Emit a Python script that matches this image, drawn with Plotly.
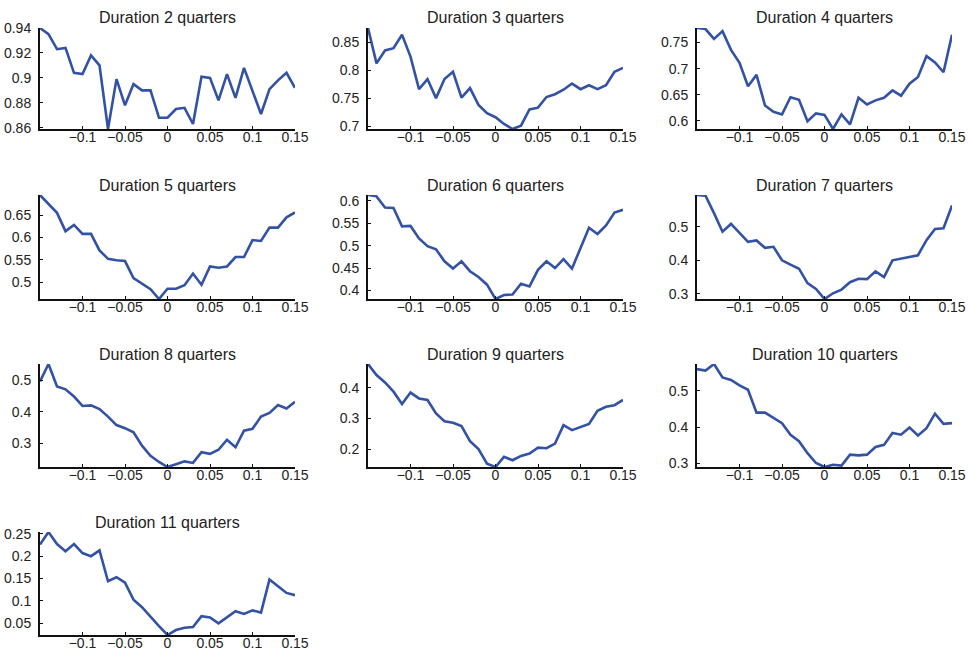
import plotly.graph_objects as go

# Common horizontal grid: -0.15 to 0.15 in steps of 0.01
x_vals = [round(-0.15 + 0.01 * i, 2) for i in range(31)]

durations = [2, 3, 4, 5, 6, 7, 8, 9, 10, 11]

dur2 = [0.940, 0.935, 0.923, 0.924, 0.904, 0.903, 0.918, 0.910, 0.859, 0.899,
        0.878, 0.895, 0.890, 0.890, 0.868, 0.868, 0.875, 0.876, 0.863, 0.901,
        0.900, 0.882, 0.903, 0.884, 0.908, 0.889, 0.871, 0.891, 0.898, 0.904,
        0.892]
dur3 = [0.875, 0.812, 0.835, 0.839, 0.863, 0.824, 0.766, 0.784, 0.750, 0.784,
        0.797, 0.751, 0.768, 0.738, 0.723, 0.716, 0.704, 0.695, 0.701, 0.730,
        0.733, 0.752, 0.757, 0.765, 0.776, 0.766, 0.773, 0.766, 0.773, 0.797,
        0.804]
dur4 = [0.778, 0.776, 0.757, 0.772, 0.736, 0.711, 0.666, 0.688, 0.629, 0.617,
        0.612, 0.645, 0.640, 0.599, 0.614, 0.611, 0.584, 0.612, 0.593, 0.644,
        0.631, 0.639, 0.644, 0.658, 0.648, 0.671, 0.684, 0.724, 0.712, 0.693,
        0.765]
dur5 = [0.695, 0.676, 0.655, 0.614, 0.628, 0.608, 0.608, 0.571, 0.552, 0.549,
        0.547, 0.509, 0.496, 0.484, 0.462, 0.485, 0.485, 0.493, 0.519, 0.494,
        0.535, 0.532, 0.535, 0.556, 0.556, 0.594, 0.592, 0.622, 0.622, 0.645,
        0.656]
dur6 = [0.613, 0.610, 0.585, 0.584, 0.543, 0.544, 0.516, 0.499, 0.492, 0.465,
        0.449, 0.465, 0.443, 0.430, 0.413, 0.381, 0.390, 0.391, 0.415, 0.409,
        0.446, 0.465, 0.450, 0.470, 0.449, 0.495, 0.540, 0.526, 0.545, 0.574,
        0.580]
dur7 = [0.594, 0.592, 0.540, 0.485, 0.508, 0.483, 0.455, 0.459, 0.437, 0.440,
        0.400, 0.387, 0.375, 0.332, 0.315, 0.285, 0.302, 0.313, 0.335, 0.345,
        0.344, 0.367, 0.350, 0.400, 0.405, 0.412, 0.415, 0.460, 0.493, 0.495,
        0.563]
dur8 = [0.497, 0.553, 0.481, 0.472, 0.449, 0.419, 0.421, 0.409, 0.385, 0.358,
        0.348, 0.335, 0.292, 0.260, 0.240, 0.224, 0.233, 0.242, 0.237, 0.271,
        0.266, 0.279, 0.311, 0.287, 0.340, 0.346, 0.385, 0.397, 0.422, 0.411,
        0.432]
dur9 = [0.477, 0.441, 0.417, 0.387, 0.347, 0.384, 0.365, 0.360, 0.316, 0.291,
        0.286, 0.275, 0.226, 0.200, 0.153, 0.142, 0.175, 0.164, 0.178, 0.186,
        0.205, 0.203, 0.218, 0.278, 0.262, 0.273, 0.282, 0.325, 0.338, 0.343,
        0.360]
dur10 = [0.560, 0.556, 0.574, 0.537, 0.530, 0.515, 0.503, 0.440, 0.440, 0.425,
         0.411, 0.379, 0.361, 0.328, 0.301, 0.290, 0.296, 0.294, 0.324, 0.322,
         0.324, 0.345, 0.351, 0.384, 0.379, 0.399, 0.377, 0.397, 0.437, 0.409,
         0.411]
dur11 = [0.226, 0.254, 0.227, 0.211, 0.227, 0.207, 0.200, 0.213, 0.144, 0.153,
         0.141, 0.103, 0.086, 0.064, 0.044, 0.024, 0.035, 0.040, 0.042, 0.066,
         0.063, 0.050, 0.064, 0.077, 0.071, 0.079, 0.074, 0.148, 0.133, 0.118,
         0.113]

series = [dur2, dur3, dur4, dur5, dur6, dur7, dur8, dur9, dur10, dur11]

x_ticks = [-0.1, -0.05, 0, 0.05, 0.1, 0.15]
y_ticks = [
    [0.86, 0.88, 0.90, 0.92, 0.94],
    [0.70, 0.75, 0.80, 0.85],
    [0.60, 0.65, 0.70, 0.75],
    [0.50, 0.55, 0.60, 0.65],
    [0.40, 0.45, 0.50, 0.55, 0.60],
    [0.3, 0.4, 0.5],
    [0.3, 0.4, 0.5],
    [0.2, 0.3, 0.4],
    [0.3, 0.4, 0.5],
    [0.05, 0.10, 0.15, 0.20, 0.25],
]


def fmt(v):
    s = f"{v:g}"
    return s.replace("-", "\u2212")


W, H = 968, 652
# pixel boxes of each panel column (left, right) and row (top, bottom)
col_px = [(40, 295), (368, 623), (697, 952)]
row_px = [(28, 129), (195, 299), (364, 467), (532, 635)]

FONT = "Liberation Sans, Arial, sans-serif"
LINE_COLOR = "#3352a4"
fig = go.Figure()
annotations = []

for i, (d, y) in enumerate(zip(durations, series)):
    r, c = divmod(i, 3)
    xl, xr = col_px[c]
    yt, yb = row_px[r]
    xa = "x" if i == 0 else f"x{i + 1}"
    ya = "y" if i == 0 else f"y{i + 1}"
    fig.add_trace(go.Scatter(
        x=x_vals, y=y, mode="lines",
        line=dict(color=LINE_COLOR, width=2.6),
        xaxis=xa, yaxis=ya, showlegend=False, hoverinfo="skip",
    ))
    axis_common = dict(
        automargin=False,
        showline=True, linecolor="#111", linewidth=2,
        ticks="inside", ticklen=3, tickwidth=1, tickcolor="#111",
        showgrid=False, zeroline=False,
        tickfont=dict(family=FONT, size=14, color="#222"),
    )
    fig.layout[("xaxis" if i == 0 else f"xaxis{i + 1}")] = dict(
        axis_common,
        domain=[xl / W, xr / W],
        anchor=ya,
        range=[-0.15, 0.15],
        tickmode="array", tickvals=x_ticks, ticktext=[fmt(v) for v in x_ticks],
        ticklabelstandoff=-6,
    )
    fig.layout[("yaxis" if i == 0 else f"yaxis{i + 1}")] = dict(
        axis_common,
        domain=[1 - yb / H, 1 - yt / H],
        anchor=xa,
        range=[min(y), max(y)],
        tickmode="array", tickvals=y_ticks[i], ticktext=[fmt(v) for v in y_ticks[i]],
        ticklabelstandoff=4,
    )
    annotations.append(dict(
        text=f"Duration {d} quarters",
        x=(xl + xr) / 2 / W, y=1 - (yt - 10) / H,
        xref="paper", yref="paper", xanchor="center", yanchor="middle",
        showarrow=False,
        font=dict(family=FONT, size=16, color="#222"),
    ))

fig.update_layout(
    width=W, height=H,
    margin=dict(l=0, r=0, t=0, b=0, autoexpand=False),
    paper_bgcolor="white", plot_bgcolor="white",
    annotations=annotations,
)

fig.write_html("out.html")
